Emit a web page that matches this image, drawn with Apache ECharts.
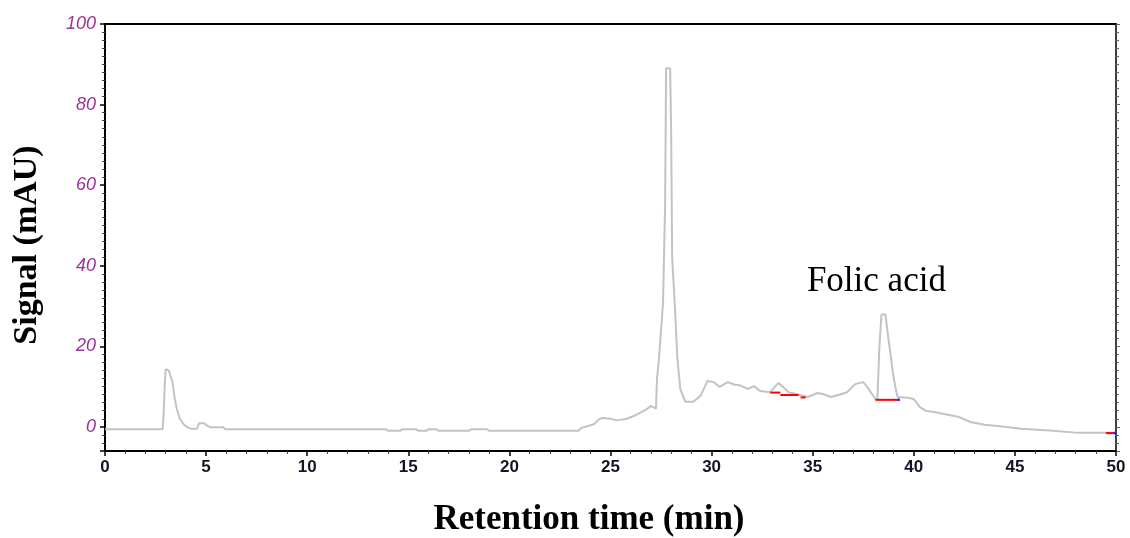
<!DOCTYPE html>
<html>
<head>
<meta charset="utf-8">
<script src="https://cdn.jsdelivr.net/npm/echarts@6/dist/echarts.min.js"></script>
<style>html,body{margin:0;padding:0;background:#fff;}#c{width:1130px;height:538px;}</style>
</head>
<body>
<div id="c"></div>
<script>
// Retention time (min)
const times = [0,2.85,2.9,2.95,3.0,3.15,3.25,3.35,3.45,3.55,3.7,3.9,4.1,4.3,4.55,4.65,4.9,5.05,5.2,5.85,5.95,
  13.9,14.0,14.6,14.7,15.4,15.5,15.9,16.0,16.4,16.5,18.0,18.1,18.9,19.0,23.4,23.6,23.9,24.2,24.4,24.6,25.0,25.3,25.8,
  26.2,26.5,26.8,27.0,27.25,27.3,27.4,27.5,27.6,27.7,27.75,27.95,28.0,28.05,28.2,28.3,28.45,28.7,29.1,29.45,29.8,30.1,
  30.4,30.8,31.1,31.4,31.8,32.1,32.4,32.9,33.3,33.5,33.8,34.25,34.75,35.25,35.55,35.9,36.4,36.7,37.1,37.5,37.7,38.1,
  38.2,38.3,38.4,38.6,38.7,38.85,38.96,39.1,39.2,39.7,40.0,40.3,40.6,41.0,41.5,42.2,42.8,43.5,44.5,45.3,46.9,48.1,50];
// Signal (mAU)
const signal = [-0.6,-0.6,3,10,14.3,14.0,12.5,10.8,7,4.5,2,0.6,-0.2,-0.5,-0.5,0.9,0.9,0.3,-0.1,-0.1,-0.6,
  -0.6,-1.0,-1.0,-0.6,-0.6,-1.0,-1.0,-0.6,-0.6,-1.0,-1.0,-0.6,-0.6,-1.0,-1.0,-0.2,0.2,0.7,1.8,2.2,2.0,1.6,2.0,
  2.8,3.6,4.4,5.2,4.5,12,17,24,31,55,89,89,73,42,28.4,17.5,9.4,6.2,6.2,7.7,11.4,11.1,
  9.9,11.1,10.5,10.3,9.4,10.1,8.9,8.6,10.9,10.1,8.6,8.1,7.4,8.4,8.1,7.4,8.1,8.6,10.6,11.1,9.9,6.9,
  7,20,27.9,27.9,23.5,18,13.6,9.5,7.4,7.2,6.9,4.9,4.0,3.7,3.2,2.5,1.2,0.5,0.0,-0.5,-1.0,-1.5,-1.5];
// integration baselines: [start, end] times and level
const baseTimes = [[32.9,33.4],[33.4,34.3],[34.4,34.65],[38.1,39.2],[49.5,49.9]];
const baseLevels = [8.5,7.9,7.3,6.7,-1.55];
// peak end markers
const markTimes = [39.25, 49.95];
const markLevels = [6.7, -1.55];
// labels
const xTicks = [0,5,10,15,20,25,30,35,40,45,50];
const yTicks = [0,20,40,60,80,100];
const annotationText = 'Folic acid';
const annotationAt = [38.15, 36.1];

const chart = echarts.init(document.getElementById('c'), null, {renderer: 'canvas'});
const series = [{
  type: 'line', data: times.map((t, i) => [t, signal[i]]),
  showSymbol: false, symbol: 'none', lineStyle: {color: '#c3c3c3', width: 2}, z: 2, animation: false
}];
baseTimes.forEach((seg, i) => {
  series.push({type: 'line', data: [[seg[0], baseLevels[i]], [seg[1], baseLevels[i]]],
    showSymbol: false, symbol: 'none', lineStyle: {color: '#ff0000', width: 2}, z: 3, animation: false});
});
series.push({type: 'scatter', data: markTimes.map((t, i) => [t, markLevels[i]]), symbolSize: 3,
  itemStyle: {color: '#0000ff'}, z: 4, animation: false});

chart.setOption({
  backgroundColor: '#fff',
  animation: false,
  grid: {left: 105, right: 14, top: 24, bottom: 87, containLabel: false},
  xAxis: [{
    type: 'value', min: 0, max: 50, interval: 5, position: 'bottom',
    axisLine: {show: true, onZero: false, lineStyle: {color: '#000', width: 2}},
    axisTick: {show: true, inside: false, length: 5, lineStyle: {color: '#000', width: 1.5}},
    minorTick: {show: true, splitNumber: 5, length: 3, lineStyle: {color: '#444'}},
    splitLine: {show: false},
    axisLabel: {color: '#141428', fontFamily: 'Liberation Sans', fontWeight: 'bold', fontSize: 17, margin: 8,
      formatter: v => xTicks.includes(v) ? String(v) : ''}
  }, {
    type: 'value', min: 0, max: 50, interval: 5, position: 'top',
    axisLine: {show: true, onZero: false, lineStyle: {color: '#000', width: 2}},
    axisTick: {show: false}, axisLabel: {show: false}, splitLine: {show: false}
  }],
  yAxis: [{
    type: 'value', min: -6, max: 100, position: 'left',
    axisLine: {show: true, onZero: false, lineStyle: {color: '#000', width: 2}},
    axisTick: {show: true, length: 5, lineStyle: {color: '#000', width: 1.5}},
    minorTick: {show: true, splitNumber: 10, length: 3, lineStyle: {color: '#444'}},
    splitLine: {show: false},
    axisLabel: {color: '#993399', fontFamily: 'Liberation Sans', fontStyle: 'italic', fontSize: 18, margin: 9,
      formatter: v => yTicks.includes(v) ? String(v) : ''}
  }, {
    type: 'value', min: -6, max: 100, position: 'right',
    axisLine: {show: true, onZero: false, lineStyle: {color: '#000', width: 1.5}},
    axisTick: {show: true, length: 4, lineStyle: {color: '#666'}},
    minorTick: {show: true, splitNumber: 10, length: 3, lineStyle: {color: '#666'}},
    splitLine: {show: false}, axisLabel: {show: false}
  }],
  graphic: [
    {type: 'text', x: 27, y: 245, rotation: Math.PI / 2, style: {text: 'Signal (mAU)', fill: '#000',
      font: 'bold 34px "Liberation Serif"', textAlign: 'center', textVerticalAlign: 'middle'}},
    {type: 'text', x: 589, y: 520, style: {text: 'Retention time (min)', fill: '#000',
      font: 'bold 35px "Liberation Serif"', textAlign: 'center', textVerticalAlign: 'middle'}}
  ],
  series: series
});
const p = chart.convertToPixel({xAxisIndex: 0, yAxisIndex: 0}, annotationAt);
chart.setOption({graphic: [{id: 'ann', type: 'text', x: p[0], y: p[1], style: {text: annotationText, fill: '#000',
  font: 'normal 35px "Liberation Serif"', textAlign: 'center', textVerticalAlign: 'middle'}}]});
</script>
</body>
</html>
